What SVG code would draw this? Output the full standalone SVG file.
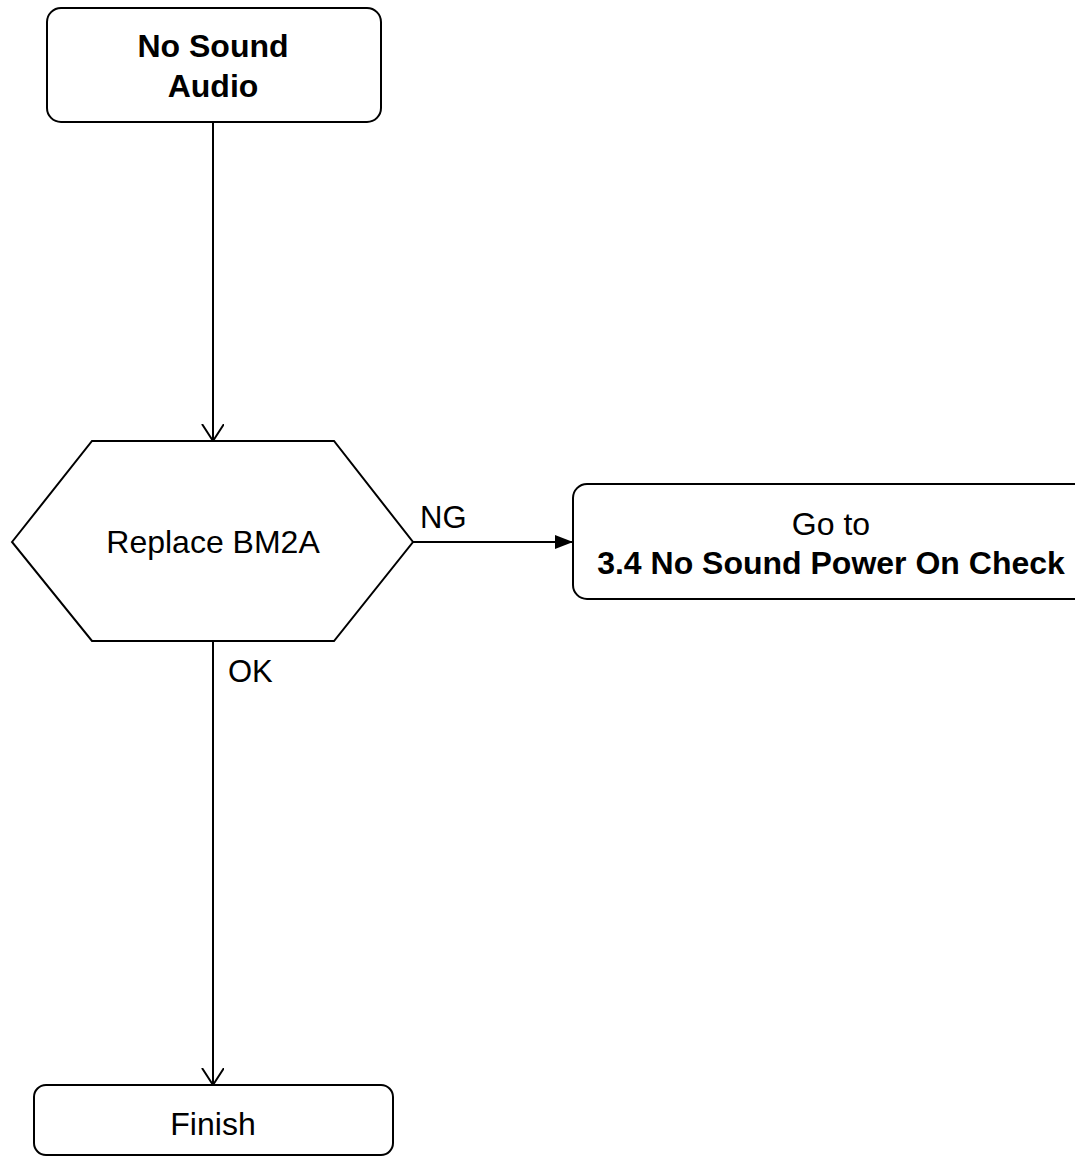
<svg xmlns="http://www.w3.org/2000/svg" width="1075" height="1160" viewBox="0 0 1075 1160">
<style>
.box{fill:#fff;stroke:#000;stroke-width:2}
.t{font-family:"Liberation Sans",Arial,sans-serif;font-size:32px;fill:#000;text-anchor:middle}
.b{font-weight:bold}
.lbl{font-family:"Liberation Sans",Arial,sans-serif;font-size:31px;fill:#000}
.edge{fill:none;stroke:#000;stroke-width:2}
</style>
<defs>
<marker id="open" markerWidth="20" markerHeight="24" refX="17" refY="11" orient="auto" markerUnits="userSpaceOnUse" viewBox="0 0 20 24">
<path d="M0,0 L17,11 L0,22" fill="none" stroke="#000" stroke-width="2"/>
</marker>
<marker id="fill" markerWidth="18" markerHeight="14" refX="17" refY="7" orient="auto" markerUnits="userSpaceOnUse" viewBox="0 0 18 14">
<path d="M0,0 L18,7 L0,14 Z" fill="#000"/>
</marker>
</defs>
<g id="connectors">
<path class="edge" d="M213,122 V441" marker-end="url(#open)"/>
<path class="edge" d="M413,542 H572" marker-end="url(#fill)"/>
<path class="edge" d="M213,641 V1085" marker-end="url(#open)"/>
<text class="lbl" x="420" y="528">NG</text>
<text class="lbl" x="228" y="682">OK</text>
</g>
<g id="start">
<rect class="box" x="47" y="8" width="334" height="114" rx="14"/>
<text class="t b" x="213" y="57">No Sound</text>
<text class="t b" x="213" y="97">Audio</text>
</g>
<g id="decision">
<polygon class="box" points="12,542 92,441 334,441 413,542 334,641 92,641"/>
<text class="t" x="213" y="553">Replace BM2A</text>
</g>
<g id="goto">
<rect class="box" x="573" y="484" width="520" height="115" rx="14"/>
<text class="t" x="831" y="535">Go to</text>
<text class="t b" x="831" y="574">3.4 No Sound Power On Check</text>
</g>
<g id="finish">
<rect class="box" x="34" y="1085" width="359" height="70" rx="12"/>
<text class="t" x="213" y="1135">Finish</text>
</g>
</svg>
